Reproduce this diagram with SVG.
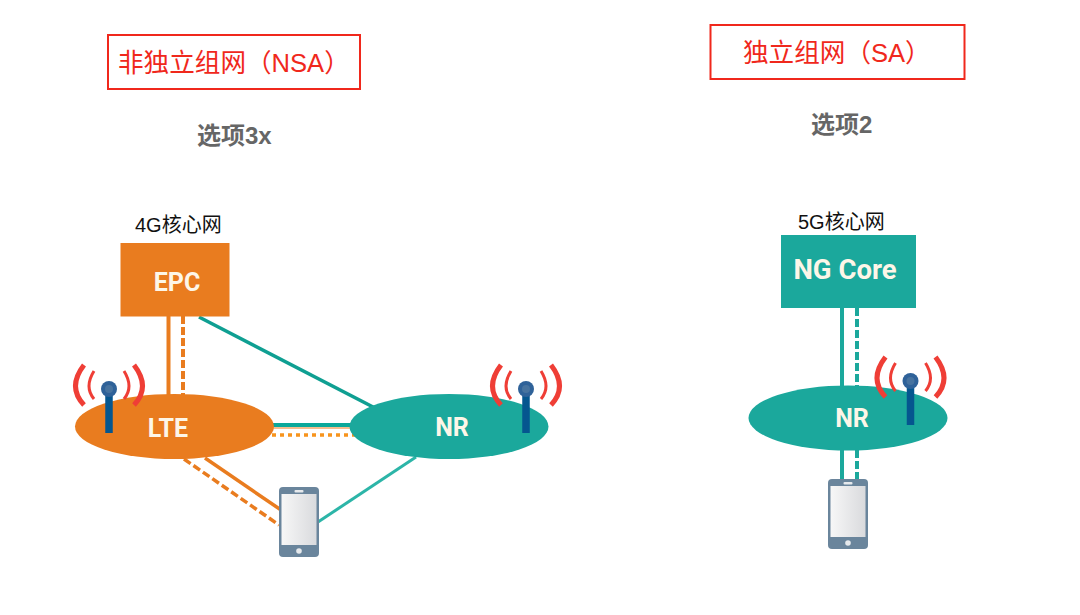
<svg xmlns="http://www.w3.org/2000/svg" width="1080" height="615" viewBox="0 0 1080 615">
<defs>
<linearGradient id="scr"><stop offset="0" stop-color="#f7f7f7"/><stop offset="1" stop-color="#d9dadd"/></linearGradient>
<g id="phone">
<rect x="0" y="0" width="40" height="70" rx="4" fill="#6a859c"/>
<rect x="2.500" y="7" width="35" height="51" fill="url(#scr)"/>
<rect x="15.500" y="3" width="9" height="2.500" rx="1" fill="#e6e9ec"/>
<circle cx="20" cy="64" r="2.800" fill="#e6e9ec"/>
</g>
<g id="antenna">
<path d="M0 0V-37" stroke="#05568f" stroke-width="7.500" fill="none"/>
<circle cx="0" cy="-44" r="8" fill="#2f6299"/>
<circle cx="0" cy="-44" r="4" fill="#47739f"/>
<path d="M-25 -68Q-42 -46 -25 -28M25 -68Q42 -46 25 -28" fill="none" stroke="#ef3e36" stroke-width="5"/>
<path d="M-15 -62Q-25 -46 -15 -34M15 -62Q25 -46 15 -34" fill="none" stroke="#ef3e36" stroke-width="3"/>
</g>
</defs>
<style>
.cjk{font-family:"Liberation Sans","Noto Sans CJK SC",sans-serif}
.box{fill:#fff;stroke:#f0281c;stroke-width:2}
.title{font-size:25.600px;fill:#f0281c}
.sub{font-size:24px;font-weight:700;fill:#666}
.cap{font-size:20px;fill:#111}
.lab{font-family:"Roboto","Liberation Sans",sans-serif;font-weight:700;fill:#fdf6e8;text-anchor:middle}
.o{fill:#e97c1f}
.t{fill:#1ba89c}
line{fill:none}
</style>
<g id="connectors">
<g stroke="#e97c1f">
<line x1="168.500" y1="316" x2="168.500" y2="396" stroke-width="4"/>
<line x1="183" y1="316" x2="183" y2="396" stroke-width="4" stroke-dasharray="8 3"/>
<line x1="205" y1="458" x2="281" y2="510" stroke-width="3.500"/>
<line x1="184" y1="459" x2="279" y2="525" stroke-width="3.500" stroke-dasharray="8 3.500"/>
</g>
<line x1="199" y1="317" x2="375" y2="408" stroke="#0f9f92" stroke-width="3.500"/>
<line x1="272" y1="425" x2="362" y2="425" stroke="#0ba89a" stroke-width="4"/>
<line x1="272" y1="428" x2="358" y2="428" stroke="#e97c1f" stroke-width="1"/>
<line x1="264" y1="435" x2="358" y2="435" stroke="#f7941d" stroke-width="3.500" stroke-dasharray="4 4"/>
<line x1="318" y1="522" x2="416" y2="457" stroke="#2cb5a8" stroke-width="3"/>
<g stroke="#1ba89c">
<line x1="842" y1="308" x2="842" y2="390" stroke-width="4"/>
<line x1="857" y1="308" x2="857" y2="390" stroke-width="4" stroke-dasharray="8 3"/>
<line x1="842" y1="450" x2="842" y2="480" stroke-width="4"/>
<line x1="857" y1="450" x2="857" y2="480" stroke-width="4" stroke-dasharray="8 3"/>
</g>
</g>
<g id="title-nsa"><rect class="box" x="108" y="35" width="252" height="54"/><text class="cjk title" x="118" y="72">非独立组网（NSA）</text></g>
<g id="title-sa"><rect class="box" x="710.500" y="25" width="254" height="54"/><text class="cjk title" x="743" y="62">独立组网（SA）</text></g>
<text class="cjk sub" x="197" y="144">选项3x</text>
<text class="cjk sub" x="811" y="133">选项2</text>
<text class="cjk cap" x="135" y="232">4G核心网</text>
<text class="cjk cap" x="798" y="229">5G核心网</text>
<g id="epc"><rect class="o" x="120.500" y="243" width="109" height="73.500"/><text class="lab" x="177" y="291" font-size="25">EPC</text></g>
<g id="ngcore"><rect class="t" x="781" y="235" width="135" height="73"/><text class="lab" x="845" y="279" font-size="27.500">NG Core</text></g>
<g id="lte"><ellipse class="o" cx="174.500" cy="426.500" rx="99.500" ry="32.500"/><text class="lab" x="168" y="437" font-size="25">LTE</text><use href="#antenna" x="109" y="433"/></g>
<g id="nr-nsa"><ellipse class="t" cx="449" cy="426.500" rx="99.500" ry="32.500"/><text class="lab" x="452" y="436" font-size="25">NR</text><use href="#antenna" x="526" y="433"/></g>
<g id="nr-sa"><ellipse class="t" cx="848" cy="418" rx="99.500" ry="32.500"/><text class="lab" x="852" y="427" font-size="25">NR</text><use href="#antenna" x="910.500" y="425"/></g>
<g id="phone-nsa"><use href="#phone" x="279" y="487"/></g>
<g id="phone-sa"><use href="#phone" x="828" y="479"/></g>
</svg>
